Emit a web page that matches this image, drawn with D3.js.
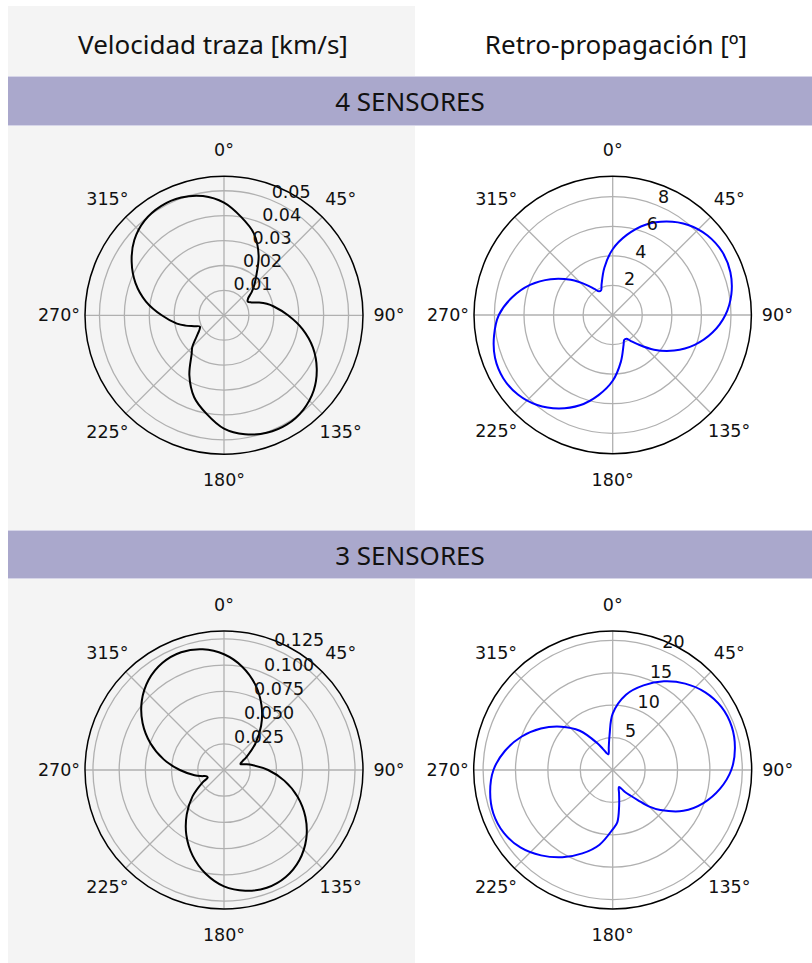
<!DOCTYPE html>
<html><head><meta charset="utf-8">
<script src="https://cdn.jsdelivr.net/npm/d3@7"></script>
<style>body{margin:0;background:#fff;} svg{display:block;}</style>
</head><body>
<svg id="c" width="812" height="963"></svg>
<script>
// ---------- data ----------
const columnTitles = ["Velocidad traza [km/s]", "Retro-propagación [º]"];
const rowTitles = ["4 SENSORES", "3 SENSORES"];
const thetaTicks = [0, 45, 90, 135, 180, 225, 270, 315];
const thetaTickLabels = ["0°", "45°", "90°", "135°", "180°", "225°", "270°", "315°"];

// 4 sensores - velocidad traza [km/s]
const vel4Angles = [0,10,20,30,40,45,50,55,60,65,70,75,80,90,100,110,120,130,140,150,160,170,
                    180,190,200,210,220,225,230,235,240,245,250,255,260,270,280,290,300,310,320,330,340,350];
const vel4Values = [0.0452,0.0400,0.0350,0.0278,0.0200,0.0172,0.0145,0.0118,0.0110,0.0122,0.0150,0.0178,0.0203,0.0257,0.0320,0.0380,0.0430,0.0470,0.0495,0.0506,0.0502,0.0485,
                    0.0455,0.0402,0.0350,0.0278,0.0202,0.0180,0.0150,0.0128,0.0113,0.0107,0.0128,0.0160,0.0192,0.0250,0.0318,0.0378,0.0428,0.0470,0.0496,0.0506,0.0503,0.0486];
const vel4RTicks = [0.01, 0.02, 0.03, 0.04, 0.05];
const vel4RTickLabels = ["0.01", "0.02", "0.03", "0.04", "0.05"];
const vel4RMax = 0.0558;

// 4 sensores - retro-propagación [º]
const bap4Angles = [0,10,20,30,40,50,60,70,80,90,100,110,120,130,140,145,150,155,160,170,
                    180,190,200,210,220,230,240,250,260,270,280,290,300,310,320,325,330,335,340,350];
const bap4Values = [4.45,5.5,6.5,7.3,7.95,8.37,8.55,8.47,8.15,7.62,6.85,5.9,4.8,3.65,2.55,2.15,1.85,1.85,2.15,3.2,
                    4.45,5.5,6.5,7.3,7.95,8.37,8.55,8.47,8.15,7.7,6.9,5.95,4.85,3.7,2.6,2.15,1.85,1.85,2.2,3.25];
const bap4RTicks = [2, 4, 6, 8];
const bap4RTickLabels = ["2", "4", "6", "8"];
const bap4RMax = 9.38;

// 3 sensores - velocidad traza [km/s]
const vel3Angles = [0,10,20,30,40,50,60,65,70,75,80,90,100,110,120,130,140,150,160,170,
                    180,190,200,210,220,230,240,245,250,255,260,270,280,290,300,310,320,330,340,350];
const vel3Values = [0.1104,0.1001,0.0869,0.0715,0.0551,0.0390,0.0247,0.0191,0.0167,0.0212,0.0273,0.0421,0.0584,0.0747,0.0897,0.1024,0.1120,0.1178,0.1195,0.1169,
                    0.1110,0.1005,0.0872,0.0718,0.0553,0.0392,0.0235,0.0172,0.0175,0.0225,0.0285,0.0421,0.0584,0.0747,0.0897,0.1024,0.1120,0.1178,0.1195,0.1169];
const vel3RTicks = [0.025, 0.05, 0.075, 0.1, 0.125];
const vel3RTickLabels = ["0.025", "0.050", "0.075", "0.100", "0.125"];
const vel3RMax = 0.1326;

// 3 sensores - retro-propagación [º]
const bap3Angles = [0,10,20,30,40,50,60,70,80,90,100,110,120,130,135,140,145,150,155,160,165,170,175,
                    180,190,200,210,220,230,240,250,260,270,280,290,300,310,320,330,335,340,345,350,355];
const bap3Values = [8.7,11.8,13.9,15.8,17.4,18.65,19.4,19.55,19.15,18.3,16.8,14.9,12.6,9.6,8.0,6.1,4.85,4.0,3.2,2.8,3.8,5.7,8.1,
                    9.15,11.7,13.7,15.55,17.2,18.6,19.4,19.6,19.2,18.4,16.9,15.0,12.8,10.4,7.9,4.8,3.6,2.8,2.5,3.5,5.5];
const bap3RTicks = [5, 10, 15, 20];
const bap3RTickLabels = ["5", "10", "15", "20"];
const bap3RMax = 21.45;

// ---------- drawing ----------
const svg = d3.select("#c");
const W = 812, H = 963;
svg.append("rect").attr("x",0).attr("y",0).attr("width",W).attr("height",H).attr("fill","#ffffff");
svg.append("rect").attr("x",8).attr("y",6).attr("width",407).attr("height",H-6).attr("fill","#f4f4f4");

const colX = [213, 616];
columnTitles.forEach((t,i)=>{
  svg.append("text").attr("x",colX[i]).attr("y",44).attr("text-anchor","middle")
    .attr("dominant-baseline","central").attr("font-family","Noto Sans, Open Sans, sans-serif")
    .attr("font-size",26).attr("fill","#111").text(t);
});

const bands = [{y:76,h:50},{y:530,h:49}];
rowTitles.forEach((t,i)=>{
  const b = bands[i];
  svg.append("rect").attr("x",8).attr("y",b.y).attr("width",W-8).attr("height",b.h).attr("fill","#aaa8cc");
  svg.append("line").attr("x1",8).attr("x2",W).attr("y1",b.y+0.5).attr("y2",b.y+0.5).attr("stroke","#d6d5e8").attr("stroke-width",1);
  svg.append("line").attr("x1",8).attr("x2",W).attr("y1",b.y+b.h-0.5).attr("y2",b.y+b.h-0.5).attr("stroke","#d6d5e8").attr("stroke-width",1);
  svg.append("text").attr("x",410).attr("y",b.y+b.h/2).attr("text-anchor","middle")
    .attr("dominant-baseline","central").attr("font-family","Noto Sans, Open Sans, sans-serif")
    .attr("font-size",26).attr("fill","#111").text(t);
});

const toRad = d => d*Math.PI/180;

function drawPolar(cx, cy, R, rmax, rTicks, rLabels, angles, values, color){
  const g = svg.append("g").attr("transform",`translate(${cx},${cy})`);
  const r = d3.scaleLinear().domain([0,rmax]).range([0,R]);
  g.selectAll("circle.ring").data(rTicks).join("circle").attr("class","ring")
    .attr("r",d=>r(d)).attr("fill","none").attr("stroke","#b0b0b0").attr("stroke-width",1.3);
  g.selectAll("line.spoke").data(thetaTicks).join("line").attr("class","spoke")
    .attr("x1",0).attr("y1",0)
    .attr("x2",d=>R*Math.sin(toRad(d))).attr("y2",d=>-R*Math.cos(toRad(d)))
    .attr("stroke","#b0b0b0").attr("stroke-width",1.3);
  const pts = angles.map((a,i)=>({a, v: values[i]}));
  const line = d3.lineRadial().angle(d=>toRad(d.a)).radius(d=>r(d.v))
    .curve(d3.curveCatmullRomClosed.alpha(0.5));
  g.append("path").attr("d",line(pts)).attr("fill","none").attr("stroke",color)
    .attr("stroke-width",2).attr("stroke-linejoin","round");
  g.append("circle").attr("r",R).attr("fill","none").attr("stroke","#000").attr("stroke-width",1.5);
  g.selectAll("text.th").data(thetaTicks).join("text").attr("class","th")
    .attr("x",d=>(R+26)*Math.sin(toRad(d))).attr("y",d=>-(R+26)*Math.cos(toRad(d)))
    .attr("text-anchor","middle").attr("dominant-baseline","central")
    .attr("font-family","DejaVu Sans, sans-serif").attr("font-size",17.5).attr("fill","#111")
    .text((d,i)=>thetaTickLabels[i]);
  const ra = toRad(22.5);
  g.selectAll("text.rl").data(rTicks).join("text").attr("class","rl")
    .attr("x",d=>r(d)*Math.sin(ra)).attr("y",d=>-r(d)*Math.cos(ra)-2.6)
    .attr("text-anchor","start")
    .attr("font-family","DejaVu Sans, sans-serif").attr("font-size",17.5).attr("fill","#111")
    .text((d,i)=>rLabels[i]);
}

drawPolar(224, 315.3, 139, vel4RMax, vel4RTicks, vel4RTickLabels, vel4Angles, vel4Values, "#000000");
drawPolar(612.7, 315, 138.7, bap4RMax, bap4RTicks, bap4RTickLabels, bap4Angles, bap4Values, "#0000ff");
drawPolar(224, 770, 139, vel3RMax, vel3RTicks, vel3RTickLabels, vel3Angles, vel3Values, "#000000");
drawPolar(612.7, 770, 139, bap3RMax, bap3RTicks, bap3RTickLabels, bap3Angles, bap3Values, "#0000ff");
</script>
</body></html>
